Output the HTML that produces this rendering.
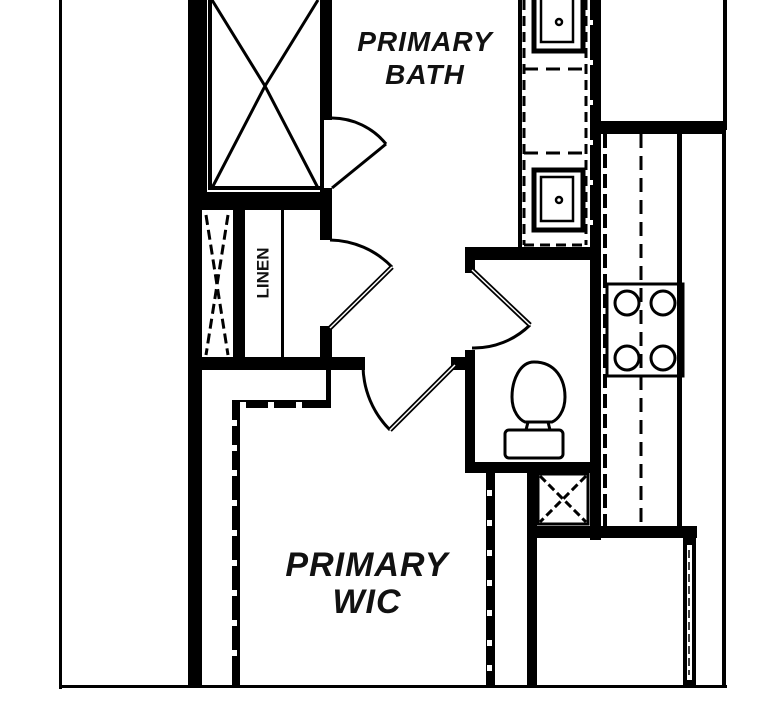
<!DOCTYPE html>
<html><head><meta charset="utf-8"><style>
html,body{margin:0;padding:0;background:#fff;}
svg{display:block;}
text{font-family:"Liberation Sans",sans-serif;font-weight:bold;fill:#111;}
</style></head><body>
<svg width="782" height="720" viewBox="0 0 782 720" xmlns="http://www.w3.org/2000/svg">
<g fill="#000" stroke="none">
<rect x="59" y="0" width="3" height="689"/>
<rect x="59" y="685" width="668" height="3"/>
<rect x="723" y="0" width="4" height="130"/>
<rect x="722" y="123" width="4" height="565"/>
<rect x="188" y="0" width="14" height="688"/>
<rect x="202" y="0" width="5" height="200"/>
<rect x="202" y="192" width="130" height="18"/>
<rect x="320" y="0" width="12" height="120"/>
<rect x="320" y="188" width="12" height="52"/>
<rect x="233" y="210" width="12" height="150"/>
<rect x="281" y="210" width="3" height="150"/>
<rect x="320" y="326" width="12" height="34"/>
<rect x="188" y="357" width="177" height="13"/>
<rect x="326" y="370" width="5" height="38"/>
<rect x="232" y="400" width="99" height="8"/>
<rect x="232" y="400" width="8" height="288"/>
<rect x="451" y="357" width="16" height="13"/>
<rect x="465" y="247" width="135" height="13"/>
<rect x="465" y="247" width="10" height="26"/>
<rect x="465" y="350" width="10" height="122"/>
<rect x="465" y="462" width="125" height="11"/>
<rect x="518" y="0" width="4" height="250"/>
<rect x="590" y="0" width="11" height="540"/>
<rect x="597" y="121" width="129" height="13"/>
<rect x="527" y="462" width="10" height="226"/>
<rect x="486" y="472" width="9" height="216"/>
<rect x="530" y="526" width="167" height="12"/>
<rect x="683" y="526" width="13" height="162"/>
<rect x="677" y="134" width="5" height="392"/>
</g>
<g fill="#fff">
<rect x="240" y="402" width="6" height="6"/><rect x="268" y="402" width="6" height="6"/><rect x="296" y="402" width="6" height="6"/>
<rect x="232" y="420" width="5" height="6"/><rect x="232" y="445" width="5" height="6"/><rect x="232" y="470" width="5" height="6"/><rect x="232" y="500" width="5" height="6"/><rect x="232" y="530" width="5" height="6"/><rect x="232" y="560" width="5" height="6"/><rect x="232" y="590" width="5" height="6"/><rect x="232" y="620" width="5" height="6"/><rect x="232" y="650" width="5" height="6"/>
<rect x="487" y="490" width="5" height="6"/><rect x="487" y="520" width="5" height="6"/><rect x="487" y="550" width="5" height="6"/><rect x="487" y="580" width="5" height="6"/><rect x="487" y="610" width="5" height="6"/><rect x="487" y="640" width="5" height="6"/><rect x="487" y="665" width="5" height="6"/>
<rect x="687" y="545" width="5" height="135"/>
<rect x="590" y="20" width="3" height="5"/><rect x="590" y="60" width="3" height="5"/><rect x="590" y="100" width="3" height="5"/><rect x="590" y="140" width="3" height="5"/><rect x="590" y="180" width="3" height="5"/><rect x="590" y="220" width="3" height="5"/>
</g>
<g stroke="#000" fill="none">
<path d="M689 550 V675" stroke-width="1.5" stroke-dasharray="8,4"/>
<rect x="210" y="-5" width="112" height="193" stroke-width="4"/>
<path d="M212 0 L265 86 L318 0 M212 188 L265 86 L318 188" stroke-width="3"/>
<path d="M206 215 L228 355 M228 215 L206 355" stroke-width="3" stroke-dasharray="10,5"/>
<path d="M332 118 A70 70 0 0 1 386 144" stroke-width="3"/>
<path d="M332 188 L386 144" stroke-width="3"/>
<path d="M330 240 A88 88 0 0 1 392 267" stroke-width="3"/>
<path d="M330 328 L392 267" stroke-width="5"/><path d="M330 328 L392 267" stroke="#fff" stroke-width="1.5"/>
<path d="M363 366 A92 92 0 0 0 390 430" stroke-width="3"/>
<path d="M455 365 L390 430" stroke-width="5"/><path d="M455 365 L390 430" stroke="#fff" stroke-width="1.5"/>
<path d="M530 325 A80 80 0 0 1 472 348" stroke-width="3"/>
<path d="M472 270 L530 325" stroke-width="5"/><path d="M472 270 L530 325" stroke="#fff" stroke-width="1.5"/>
<path d="M524 0 V245 M586 0 V245 M524 245 H586" stroke-width="3" stroke-dasharray="10,6"/>
<path d="M524 69 H588 M524 153 H588" stroke-width="3" stroke-dasharray="14,8"/>
<rect x="534" y="-5" width="49" height="56" stroke-width="5"/>
<rect x="541" y="-5" width="32" height="47" stroke-width="2.5"/>
<circle cx="559" cy="22" r="3" stroke-width="2.5"/>
<rect x="534" y="170" width="49" height="60" stroke-width="5"/>
<rect x="541" y="177" width="32" height="44" stroke-width="2.5"/>
<circle cx="559" cy="200" r="3" stroke-width="2.5"/>
<path d="M605 134 V526" stroke-width="4" stroke-dasharray="14,6"/>
<path d="M641 134 V526" stroke-width="3" stroke-dasharray="14,8"/>
<rect x="607" y="284" width="76" height="92" stroke-width="3"/>
<circle cx="627" cy="303" r="12" stroke-width="3"/><circle cx="663" cy="303" r="12" stroke-width="3"/>
<circle cx="627" cy="358" r="12" stroke-width="3"/><circle cx="663" cy="358" r="12" stroke-width="3"/>
<path d="M534 362 C520 362 512 380 512 397 C512 412 520 420 525 422 L552 422 C557 420 565 412 565 397 C565 380 556 362 534 362 Z" stroke-width="3"/>
<rect x="505" y="430" width="58" height="28" rx="4" stroke-width="3"/>
<path d="M528 422 L526 430 M548 422 L550 430" stroke-width="3"/>
<rect x="538" y="474" width="50" height="50" stroke-width="3"/>
<path d="M540 476 L586 522 M586 476 L540 522" stroke-width="3" stroke-dasharray="8,4"/>
</g>
<text x="0" y="0" transform="translate(264,273) rotate(-90)" font-size="17" text-anchor="middle" dominant-baseline="middle">LINEN</text>
<text x="425" y="51" font-size="28" text-anchor="middle" font-style="italic" letter-spacing="1">PRIMARY</text>
<text x="425" y="84" font-size="28" text-anchor="middle" font-style="italic" letter-spacing="1">BATH</text>
<text x="367" y="576" font-size="34" text-anchor="middle" font-style="italic" letter-spacing="1">PRIMARY</text>
<text x="367" y="613" font-size="34" text-anchor="middle" font-style="italic" letter-spacing="1">WIC</text>
</svg>
</body></html>
